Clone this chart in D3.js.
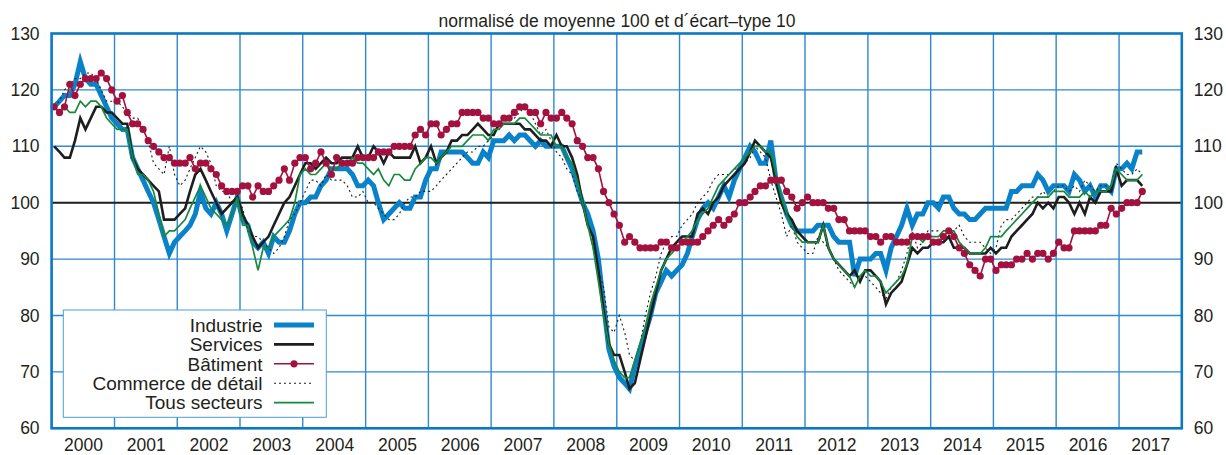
<!DOCTYPE html>
<html>
<head>
<meta charset="utf-8">
<script src="https://cdn.jsdelivr.net/npm/d3@7/dist/d3.min.js"></script>
<style>
  body { margin: 0; background: #fff; }
  svg { display: block; }
  text { font-family: "Liberation Sans", Arial, Helvetica, sans-serif; fill: #231f20; }
</style>
</head>
<body>
<svg id="chart" width="1226" height="455"></svg>
<script>
// monthly values, Jan 2000 -> May 2017 (one row per year)
var industrie = [
  117,118,119,119,121,125,122,121,121,119,117,115,
  114,113,113,108,106,104,102,100,97,94,91,93,
  94,95,96,98,102,99,98,100,98,95,98,101,
  97,96,93,92,93,91,94,93,93,95,98,100,
  100,101,101,103,104,106,106,106,106,105,103,103,
  104,103,100,97,98,99,100,99,99,101,101,104,
  106,106,109,109,109,109,109,108,107,107,109,108,
  111,111,111,112,111,112,112,111,110,111,110,110,
  110,110,108,106,103,100,98,95,90,82,74,71,
  69,68,67,71,74,77,80,84,86,88,87,88,
  89,91,94,97,99,100,99,101,103,101,104,106,
  108,110,109,107,107,111,104,101,98,96,95,95,
  95,95,96,96,96,94,93,93,93,87,90,90,
  90,91,91,88,92,94,96,99,96,98,98,100,
  100,99,101,101,99,98,98,97,97,98,99,99,
  99,99,99,102,102,103,103,103,105,104,102,103,
  103,103,102,105,104,102,103,101,103,103,102,106,
  106,107,106,109,109
];
var services = [
  110,109,108,108,111,115,113,115,117,117,116,116,
  115,114,114,108,106,105,104,103,102,97,97,97,
  98,99,102,105,106,104,102,100,98,99,100,101,
  98,96,94,92,93,94,96,98,100,101,103,105,
  107,107,106,107,108,107,107,108,108,108,110,108,
  108,110,109,107,109,108,108,108,108,110,107,108,
  110,107,108,109,111,111,112,112,113,114,113,112,
  112,114,114,114,114,114,113,113,112,111,111,110,
  112,110,110,108,105,100,96,94,88,81,75,73,
  73,70,67,68,72,76,80,84,88,90,92,93,
  94,94,94,98,99,98,100,101,103,104,105,106,
  107,109,111,110,109,108,104,100,98,97,95,94,
  93,93,93,96,92,90,89,88,87,88,86,88,
  88,87,86,82,84,85,86,89,92,91,92,92,
  93,93,93,94,92,92,92,91,91,91,91,92,
  91,92,92,94,95,96,97,98,100,99,100,99,
  101,101,100,98,100,98,101,100,102,102,102,106,
  103,104,104,104,103
];
var batiment = [
  117,116,117,121,119,121,122,122,122,123,122,120,
  118,119,116,114,114,113,111,110,109,108,108,107,
  107,107,108,106,107,107,106,105,103,102,102,102,
  103,103,101,103,102,102,103,104,106,104,107,108,
  108,106,107,109,107,105,108,107,107,107,108,108,
  108,108,109,109,109,110,110,110,110,112,113,112,
  114,114,112,113,114,114,116,116,116,116,115,115,
  114,114,115,115,116,117,117,116,116,114,116,115,
  115,116,115,114,111,110,108,108,106,102,100,98,
  96,93,94,93,92,92,92,92,93,93,92,92,
  93,93,93,93,94,95,96,97,96,97,98,100,
  100,101,102,103,103,104,104,104,102,101,99,100,
  101,100,100,100,99,99,97,97,95,95,95,95,
  94,94,93,94,94,93,93,93,94,94,94,94,
  93,93,94,95,94,92,91,89,88,87,90,90,
  88,89,89,89,90,90,91,90,91,91,90,91,
  93,92,92,95,95,95,95,95,96,96,99,98,
  99,100,100,100,102
];
var commerce = [
  117,118,120,121,122,122,123,123,122,120,118,118,
  118,117,116,115,115,113,111,107,106,105,110,105,
  103,104,106,108,110,109,107,103,102,102,100,101,
  99,95,94,94,93,92,91,92,94,97,98,100,
  102,104,104,103,105,104,104,104,103,101,101,102,
  100,100,99,98,97,97,98,100,101,101,102,102,
  102,103,104,105,106,107,108,109,109,110,110,111,
  112,114,114,115,115,116,117,116,114,112,113,111,
  109,108,106,105,102,100,96,92,88,85,78,77,
  80,77,73,72,75,80,84,87,91,93,94,94,
  96,97,98,100,101,102,104,105,105,105,106,106,
  107,108,110,109,108,104,101,98,94,96,93,92,
  91,91,94,93,92,90,88,87,86,85,87,87,
  86,85,84,83,85,86,88,91,95,92,93,95,
  95,95,94,94,95,96,94,93,93,93,92,91,
  92,96,97,97,98,99,100,101,101,102,101,102,
  103,103,102,103,102,104,103,102,103,103,103,107,
  106,105,105,106,105
];
var tous = [
  117,116,117,116,116,118,117,118,118,117,115,114,
  113,113,113,108,105,105,104,102,98,94,95,95,
  96,97,99,101,103,101,99,98,97,96,98,101,
  96,96,92,88,92,92,94,95,96,97,100,105,
  106,105,105,106,107,106,106,107,107,108,107,107,
  106,105,106,104,103,105,105,104,104,106,107,108,
  108,107,108,109,110,110,110,111,112,112,112,111,
  113,113,114,114,114,115,115,114,113,112,112,112,
  110,110,108,107,104,100,96,92,86,80,75,72,
  70,69,69,72,75,78,82,85,88,90,91,92,
  93,94,95,97,98,99,101,103,104,105,106,107,
  108,109,110,110,109,109,105,101,98,96,94,93,
  93,93,93,96,92,90,89,88,87,85,87,88,
  87,87,86,84,85,86,87,89,94,94,93,94,
  94,94,95,95,95,93,92,91,91,91,92,94,
  94,94,95,96,97,98,99,100,101,101,101,102,
  102,102,101,101,101,102,101,102,102,102,103,106,
  105,104,104,104,105
];
var yearLabels = ["2000","2001","2002","2003","2004","2005","2006","2007","2008",
                  "2009","2010","2011","2012","2013","2014","2015","2016","2017"];
var yTicks = [60, 70, 80, 90, 100, 110, 120, 130];
var legendLabels = ["Industrie", "Services", "Bâtiment", "Commerce de détail", "Tous secteurs"];
var subtitle = "normalisé de moyenne 100 et d´écart–type 10";

var pLeft = 51.6, pRight = 1181.8, pTop = 33.5, pBottom = 428.3;
var gridBlue = "#2e8ad0", frameBlue = "#0b78c3";

var svg = d3.select("#chart");

var x = d3.scaleTime()
  .domain([new Date(2000, 0, 1), new Date(2018, 0, 1)])
  .range([pLeft, pRight]);
var y = d3.scaleLinear().domain([60, 130]).range([pBottom, pTop]);

function monthDate(i) { return new Date(2000, i, 16); }

// subtitle
svg.append("text").attr("x", 617).attr("y", 26.5)
  .attr("text-anchor", "middle").style("font-size", "17.5px")
  .text(subtitle);

// grid
var grid = svg.append("g");
grid.selectAll("line.h").data(yTicks.filter(function (d) { return d > 60 && d < 130 && d != 100; }))
  .enter().append("line")
  .attr("x1", pLeft).attr("x2", pRight)
  .attr("y1", function (d) { return y(d); }).attr("y2", function (d) { return y(d); })
  .attr("stroke", gridBlue).attr("stroke-width", 1.4);
grid.selectAll("line.v").data(yearLabels.slice(1))
  .enter().append("line")
  .attr("x1", function (d) { return x(new Date(+d, 0, 1)); })
  .attr("x2", function (d) { return x(new Date(+d, 0, 1)); })
  .attr("y1", pTop).attr("y2", pBottom)
  .attr("stroke", gridBlue).attr("stroke-width", 1.4);

// axes (labels only)
var yl = svg.append("g").attr("transform", "translate(" + pLeft + ",0)")
  .call(d3.axisLeft(y).tickValues(yTicks).tickSize(0).tickPadding(12));
var yr = svg.append("g").attr("transform", "translate(" + pRight + ",0)")
  .call(d3.axisRight(y).tickValues(yTicks).tickSize(0).tickPadding(12));
var xb = svg.append("g").attr("transform", "translate(0," + pBottom + ")")
  .call(d3.axisBottom(x)
    .tickValues(yearLabels.map(function (d) { return new Date(+d, 6, 2); }))
    .tickFormat(d3.timeFormat("%Y")).tickSize(0).tickPadding(10.5));
[yl, yr, xb].forEach(function (g) {
  g.select(".domain").remove();
  g.attr("font-family", null).attr("font-size", null);
  g.selectAll("text").style("font-size", "17.5px").attr("fill", "#231f20");
});

// reference line at 100
svg.append("line").attr("x1", pLeft).attr("x2", pRight)
  .attr("y1", y(100)).attr("y2", y(100))
  .attr("stroke", "#1e1e1e").attr("stroke-width", 2);

// series
var line = d3.line()
  .x(function (d, i) { return x(monthDate(i)); })
  .y(function (d) { return y(d); });

var plot = svg.append("g");
plot.append("path").datum(industrie).attr("d", line)
  .attr("fill", "none").attr("stroke", "#0a82c9").attr("stroke-width", 5);
plot.append("path").datum(services).attr("d", line)
  .attr("fill", "none").attr("stroke", "#1e1e1e").attr("stroke-width", 2.6);
plot.append("path").datum(commerce).attr("d", line)
  .attr("fill", "none").attr("stroke", "#1e1e1e").attr("stroke-width", 1.1)
  .attr("stroke-dasharray", "2,3");
plot.append("path").datum(tous).attr("d", line)
  .attr("fill", "none").attr("stroke", "#17893d").attr("stroke-width", 1.7);
plot.append("path").datum(batiment).attr("d", line)
  .attr("fill", "none").attr("stroke", "#a3123f").attr("stroke-width", 1.6);
plot.selectAll("circle.bat").data(batiment).enter().append("circle")
  .attr("cx", function (d, i) { return x(monthDate(i)); })
  .attr("cy", function (d) { return y(d); })
  .attr("r", 3.6).attr("fill", "#a3123f");

// frame
svg.append("rect").attr("x", pLeft).attr("y", pTop)
  .attr("width", pRight - pLeft).attr("height", pBottom - pTop)
  .attr("fill", "none").attr("stroke", frameBlue).attr("stroke-width", 2.6);

// legend
var lg = svg.append("g");
lg.append("rect").attr("x", 63.3).attr("y", 310).attr("width", 263).attr("height", 107.3)
  .attr("fill", "#fff").attr("stroke", "#4a9edb").attr("stroke-width", 1);
var styles = [
  { c: "#0a82c9", w: 5, dash: null, dot: false },
  { c: "#1e1e1e", w: 2.6, dash: null, dot: false },
  { c: "#a3123f", w: 1.6, dash: null, dot: true },
  { c: "#1e1e1e", w: 1.1, dash: "2,3", dot: false },
  { c: "#17893d", w: 1.7, dash: null, dot: false }
];
legendLabels.forEach(function (name, k) {
  var cy = 325 + k * 19.4;
  lg.append("text").attr("x", 262.5).attr("y", cy + 6.8)
    .attr("text-anchor", "end").style("font-size", "19px").text(name);
  lg.append("line").attr("x1", 274).attr("x2", 314).attr("y1", cy).attr("y2", cy)
    .attr("stroke", styles[k].c).attr("stroke-width", styles[k].w)
    .attr("stroke-dasharray", styles[k].dash);
  if (styles[k].dot) {
    lg.append("circle").attr("cx", 294).attr("cy", cy).attr("r", 3.6).attr("fill", styles[k].c);
  }
});
</script>
</body>
</html>
